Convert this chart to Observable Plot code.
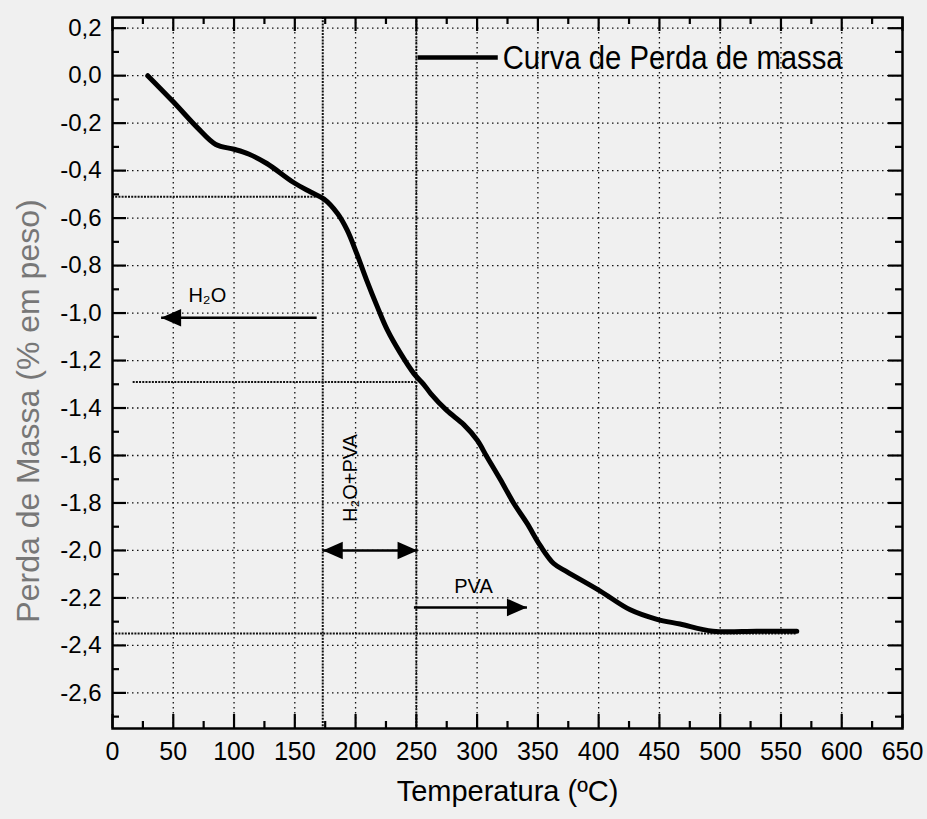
<!DOCTYPE html>
<html><head><meta charset="utf-8">
<script src="https://cdn.jsdelivr.net/npm/d3@7"></script>
<script src="https://cdn.jsdelivr.net/npm/@observablehq/plot@0.6"></script>
<style>
html,body{margin:0;padding:0;background:#f0f0f0;}
</style></head><body><div id="chart"></div>
<script>
// Curve data: temperature (°C) and mass loss (% em peso)
const temperatura = [29, 50, 70, 85, 100, 112, 127, 149, 163, 174, 185, 193, 201, 209, 218, 226, 237, 248, 256, 262, 275, 289, 300, 308, 319, 330, 341, 352, 363, 374, 401, 426, 448, 467, 494, 530, 563];
const perdaMassa  = [0, -0.11, -0.22, -0.29, -0.31, -0.33, -0.37, -0.45, -0.49, -0.52, -0.58, -0.65, -0.75, -0.86, -0.975, -1.07, -1.17, -1.255, -1.30, -1.34, -1.41, -1.47, -1.535, -1.605, -1.70, -1.80, -1.885, -1.98, -2.055, -2.09, -2.17, -2.25, -2.29, -2.31, -2.34, -2.34, -2.34];

// Axes
const xTicks = [0, 50, 100, 150, 200, 250, 300, 350, 400, 450, 500, 550, 600, 650];
const xMinor = [25, 75, 125, 175, 225, 275, 325, 375, 425, 475, 525, 575, 625];
const yTicks = [0.2, 0, -0.2, -0.4, -0.6, -0.8, -1.0, -1.2, -1.4, -1.6, -1.8, -2.0, -2.2, -2.4, -2.6];
const yMinor = [0.1, -0.1, -0.3, -0.5, -0.7, -0.9, -1.1, -1.3, -1.5, -1.7, -1.9, -2.1, -2.3, -2.5, -2.7];

// Reference lines
const refX = [173, 250];
const refYvalue = [-0.51, -1.29, -2.35];
const refYfrom  = [0, 17, 0];
const refYto    = [173, 250, 563];

// Arrows (shaft from tail to tip)
const arrowTail = [168, 173, 248];
const arrowTip  = [40, 251, 341];
const arrowY    = [-1.02, -2.00, -2.24];
const arrowDoubled = [false, true, false];

// Labels
const labelText = ["H\u2082O", "PVA"];
const labelX = [78, 297];
const labelY = [-0.925, -2.154];
const vLabelText = "H\u2082O+PVA";
const vLabelX = 196, vLabelY = -1.695;

const legendText = "Curva de Perda de massa";
const legendX1 = 251, legendX2 = 317, legendY = 0.076;

const xLabel = "Temperatura (ºC)";
const yLabel = "Perda de Massa (% em peso)";

const W = 927, H = 819;
const mTop = 17, mBottom = 91, mLeft = 112, mRight = 25;
const innerH = H - mTop - mBottom, innerW = W - mLeft - mRight;

const curve = temperatura.map((t, i) => ({t, v: perdaMassa[i]}));
const refY = refYvalue.map((v, i) => ({v, x1: refYfrom[i], x2: refYto[i]}));
const arrows = arrowTail.map((a, i) => ({a, b: arrowTip[i], y: arrowY[i]}));
const heads = [];
arrows.forEach((d, i) => {
  heads.push({x: d.b, y: d.y, dir: d.b > d.a ? "R" : "L"});
  if (arrowDoubled[i]) heads.push({x: d.a, y: d.y, dir: d.a > d.b ? "R" : "L"});
});
const labels = labelText.map((s, i) => ({s, x: labelX[i], y: labelY[i]}));

function triangle(dir) {
  return {draw(ctx, size) {
    const r = Math.sqrt(size / Math.PI);
    const L = 2.5 * r, w = 1.1 * r;
    const s = dir === "L" ? 1 : -1;
    ctx.moveTo(0, 0);
    ctx.lineTo(s * L, -w);
    ctx.lineTo(s * L, w);
    ctx.closePath();
  }};
}

const fmtY = d => d.toFixed(1).replace(".", ",");
const gridStyle = {stroke: "#111", strokeWidth: 1.3, strokeDasharray: "1.5,3.5"};
const refStyle = {stroke: "#111", strokeWidth: 2, strokeDasharray: "2,1.2"};

const chart = Plot.plot({
  width: W, height: H,
  marginTop: mTop, marginBottom: mBottom, marginLeft: mLeft, marginRight: mRight,
  style: {background: "#f0f0f0", fontFamily: "'Liberation Sans', Arial, sans-serif", color: "#000"},
  x: {domain: [0, 650]},
  y: {domain: [-2.75, 0.245]},
  marks: [
    Plot.ruleX(xTicks.slice(1, -1), gridStyle),
    Plot.ruleY(yTicks, gridStyle),
    Plot.ruleX(refX, refStyle),
    Plot.ruleY(refY, {y: "v", x1: "x1", x2: "x2", ...refStyle}),
    // inward ticks: bottom, top, left, right
    Plot.tickX(xTicks, {x: d => d, insetTop: innerH - 14, strokeWidth: 2.2}),
    Plot.tickX(xMinor, {x: d => d, insetTop: innerH - 7, strokeWidth: 2.2}),
    Plot.tickX(xTicks, {x: d => d, insetBottom: innerH - 14, strokeWidth: 2.2}),
    Plot.tickX(xMinor, {x: d => d, insetBottom: innerH - 7, strokeWidth: 2.2}),
    Plot.tickY(yTicks, {y: d => d, insetRight: innerW - 14, strokeWidth: 2.2}),
    Plot.tickY(yMinor, {y: d => d, insetRight: innerW - 7, strokeWidth: 2.2}),
    Plot.tickY(yTicks, {y: d => d, insetLeft: innerW - 14, strokeWidth: 2.2}),
    Plot.tickY(yMinor, {y: d => d, insetLeft: innerW - 7, strokeWidth: 2.2}),
    Plot.frame({stroke: "#000", strokeWidth: 2.5}),
    Plot.axisX(xTicks, {tickSize: 0, tickPadding: 14, fontSize: 25, label: null, tickFormat: d => String(d)}),
    Plot.axisY(yTicks, {tickSize: 0, tickPadding: 11, fontSize: 24, label: null, tickFormat: fmtY}),
    // curve
    Plot.line(curve, {x: "t", y: "v", stroke: "#000", strokeWidth: 5, curve: "catmull-rom"}),
    // arrows
    Plot.link(arrows, {x1: "a", x2: "b", y1: "y", y2: "y", stroke: "#000", strokeWidth: 2.5}),
    Plot.dot(heads.filter(d => d.dir === "L"), {x: "x", y: "y", r: 8, fill: "#000", stroke: "none", symbol: triangle("L")}),
    Plot.dot(heads.filter(d => d.dir === "R"), {x: "x", y: "y", r: 8, fill: "#000", stroke: "none", symbol: triangle("R")}),
    Plot.text(labels, {x: "x", y: "y", text: "s", fontSize: 20, fill: "#000"}),
    Plot.text([vLabelText], {x: () => vLabelX, y: () => vLabelY, text: d => d, rotate: -90, fontSize: 20, fill: "#000"}),
    // legend
    Plot.link([legendY], {x1: () => legendX1, x2: () => legendX2, y1: d => d, y2: d => d, stroke: "#000", strokeWidth: 4.5}),
    Plot.text([legendText], {x: () => legendX2 + 4, y: () => legendY, text: d => d, textAnchor: "start", fontSize: 34, fill: "#000", className: "legend-text"}),
    // axis titles
    Plot.text([xLabel], {frameAnchor: "bottom", dy: 72, text: d => d, fontSize: 29, fill: "#000"}),
    Plot.text([yLabel], {frameAnchor: "left", textAnchor: "middle", dx: -84, dy: 38, rotate: -90, text: d => d, fontSize: 32, fill: "#777"})
  ]
});
// condense the legend text horizontally like the reference
chart.querySelectorAll(".legend-text text").forEach(t => {
  t.setAttribute("textLength", 340);
  t.setAttribute("lengthAdjust", "spacingAndGlyphs");
});
document.getElementById("chart").appendChild(chart);
</script></body></html>
